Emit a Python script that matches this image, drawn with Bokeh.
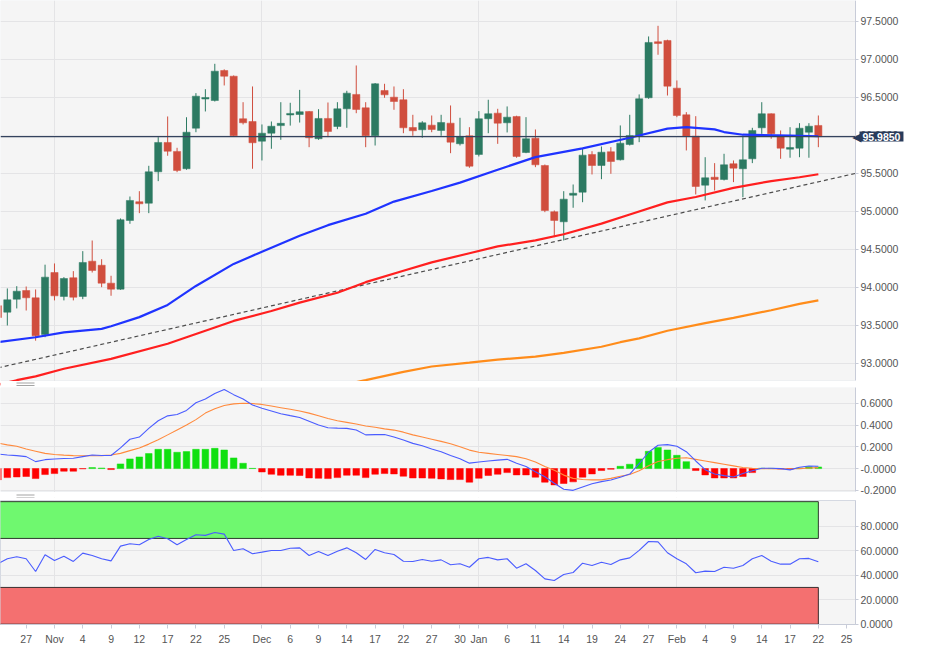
from bokeh.plotting import figure
from bokeh.layouts import column
from bokeh.models import (Range1d, FixedTicker, Label, ColumnDataSource, PrintfTickFormatter,
                          BoxAnnotation)
from bokeh.embed import file_html
from bokeh.resources import INLINE

# ---------------- data ----------------
tick_idx = [0, 3, 6, 9, 12, 15, 18, 21, 24, 28, 31, 34, 37, 40, 43, 46, 49, 51, 54, 57, 60, 63, 66, 69, 72, 75, 78, 81, 84, 87, 90]
tick_labels = ["22", "27", "Nov", "4", "9", "12", "17", "22", "25", "Dec", "6", "9", "14", "17", "22", "27", "30",
               "Jan", "6", "11", "14", "19", "24", "27", "Feb", "4", "9", "14", "17", "22", "25"]
month_idx = [6, 28, 51, 72]

open_ = [93.76, 93.675, 93.846, 93.96, 93.864, 93.382, 94.197, 93.882, 94.128, 93.882,
         94.346, 94.293, 94.057, 93.978, 94.882, 95.128, 95.109, 95.522, 95.908, 95.79,
         95.562, 96.096, 96.48, 96.46, 96.855, 96.78, 96.22, 96.184, 95.925, 96.03,
         96.13, 96.27, 96.276, 96.316, 95.957, 96.224, 96.118, 96.351, 96.54, 96.364,
         95.996, 96.592, 96.504, 96.47, 96.105, 96.075, 96.136, 96.066, 96.162, 95.891,
         95.996, 95.75, 96.22, 96.294, 96.167, 96.25, 95.776, 95.965, 95.605, 94.996,
         94.864, 95.214, 95.254, 95.75, 95.605, 95.786, 95.68, 95.882, 96.0, 96.496,
         97.233, 97.25, 96.623, 96.272, 95.991, 95.346, 95.451, 95.421, 95.628, 95.562,
         95.693, 96.101, 96.286, 96.0, 95.82, 95.833, 96.043, 96.132]
high = [93.82, 93.987, 94.017, 94.013, 93.974, 94.30, 94.316, 94.136, 94.215, 94.478,
        94.618, 94.372, 94.154, 94.908, 95.197, 95.267, 95.601, 95.978, 96.25, 95.838,
        96.24, 96.557, 96.609, 96.943, 96.87, 96.79, 96.438, 96.645, 96.145, 96.184,
        96.438, 96.43, 96.60, 96.32, 96.346, 96.434, 96.438, 96.588, 96.921, 96.438,
        96.69, 96.68, 96.645, 96.609, 96.272, 96.188, 96.263, 96.272, 96.395, 96.233,
        96.109, 96.32, 96.47, 96.351, 96.382, 96.26, 96.241, 96.079, 95.618, 95.013,
        95.267, 95.355, 95.833, 95.793, 95.855, 95.846, 96.132, 96.272, 96.54, 97.303,
        97.443, 97.26, 96.724, 96.307, 96.254, 95.714, 95.636, 95.759, 95.671, 96.0,
        96.101, 96.438, 96.29, 96.066, 96.109, 96.162, 96.162, 96.263]
low = [93.58, 93.50, 93.724, 93.697, 93.30, 93.346, 93.83, 93.83, 93.83, 93.846,
       94.197, 94.004, 93.891, 93.97, 94.838, 94.978, 94.978, 95.399, 95.733, 95.517,
       95.549, 96.043, 96.316, 96.447, 96.658, 95.99, 96.145, 95.562, 95.671, 95.825,
       95.943, 96.13, 96.17, 95.846, 95.943, 95.978, 96.083, 96.101, 96.293, 95.846,
       95.868, 96.496, 96.338, 96.03, 95.996, 95.97, 96.043, 95.996, 95.767, 95.868,
       95.575, 95.724, 96.03, 95.89, 96.04, 95.707, 95.767, 95.583, 94.991, 94.662,
       94.618, 95.049, 95.122, 95.487, 95.425, 95.496, 95.671, 95.868, 95.912, 96.483,
       97.062, 96.526, 96.241, 95.803, 95.224, 95.145, 95.276, 95.408, 95.386, 95.188,
       95.636, 96.022, 95.957, 95.693, 95.707, 95.714, 95.707, 95.846]
close = [93.605, 93.838, 93.951, 93.864, 93.364, 94.136, 93.89, 94.118, 93.872, 94.329,
         94.224, 94.057, 93.978, 94.891, 95.145, 95.101, 95.522, 95.908, 95.793, 95.54,
         96.043, 96.517, 96.50, 96.846, 96.78, 95.996, 96.167, 95.904, 96.03, 96.122,
         96.16, 96.29, 96.312, 95.97, 96.224, 96.053, 96.351, 96.557, 96.342, 95.996,
         96.68, 96.535, 96.447, 96.101, 96.062, 96.167, 96.079, 96.171, 95.912, 95.987,
         95.596, 96.22, 96.286, 96.162, 96.241, 95.724, 95.957, 95.614, 95.013, 94.882,
         95.162, 95.24, 95.741, 95.605, 95.78, 95.658, 95.899, 96.0, 96.483, 97.224,
         97.21, 96.649, 96.263, 95.991, 95.329, 95.443, 95.421, 95.614, 95.57, 95.68,
         96.066, 96.286, 96.022, 95.833, 95.842, 96.096, 96.122, 95.985]

ma50_idx = [0, 4, 7, 11, 12, 15, 18, 21, 25, 28, 32, 35, 39, 42, 46, 49, 53, 57, 62, 67, 71, 73, 76, 77, 79, 84, 87]
ma50 = [93.28, 93.345, 93.41, 93.455, 93.49, 93.61, 93.77, 94.02, 94.31, 94.47, 94.68, 94.82, 94.97, 95.13,
        95.27, 95.38, 95.55, 95.715, 95.83, 95.97, 96.09, 96.11, 96.08, 96.045, 96.01, 96.0, 95.99]
ma100_idx = [0, 2, 4, 7, 12, 18, 25, 29, 32, 36, 39, 43, 46, 50, 53, 57, 60, 64, 67, 71, 74, 78, 82, 85, 87]
ma100 = [92.72, 92.78, 92.83, 92.93, 93.06, 93.26, 93.56, 93.69, 93.80, 93.93, 94.07, 94.22, 94.33, 94.45,
         94.54, 94.62, 94.70, 94.84, 94.96, 95.12, 95.19, 95.31, 95.40, 95.45, 95.49]
ma200_idx = [36, 39, 43, 46, 50, 53, 57, 60, 64, 66, 68, 71, 75, 78, 82, 85, 87]
ma200 = [92.70, 92.78, 92.89, 92.96, 93.01, 93.05, 93.09, 93.14, 93.22, 93.28, 93.33, 93.43, 93.53, 93.60,
         93.70, 93.785, 93.83]
trend_idx = [0, 90.94]
trend = [92.942, 95.501]

macd = [0.133, 0.125, 0.119, 0.110, 0.064, 0.082, 0.088, 0.093, 0.095, 0.11,
        0.125, 0.12, 0.12, 0.19, 0.27, 0.29, 0.37, 0.44, 0.485, 0.498,
        0.535, 0.605, 0.64, 0.69, 0.727, 0.68, 0.64, 0.585, 0.555, 0.53,
        0.505, 0.487, 0.47, 0.435, 0.40, 0.376, 0.372, 0.37, 0.355, 0.31,
        0.312, 0.314, 0.29, 0.262, 0.232, 0.21, 0.18, 0.155, 0.12, 0.09,
        0.05, 0.06, 0.07, 0.078, 0.085, 0.05, 0.02, -0.03, -0.075, -0.135,
        -0.19, -0.2, -0.17, -0.14, -0.12, -0.105, -0.08, -0.05, 0.045, 0.15,
        0.215, 0.22, 0.205, 0.155, 0.07, -0.01, -0.05, -0.065, -0.078, -0.045,
        -0.02, 0.003, 0.003, 0.0, -0.012, 0.012, 0.024, 0.022]
signal = [0.235, 0.218, 0.205, 0.18, 0.16, 0.14, 0.13, 0.124, 0.119, 0.118,
          0.118, 0.119, 0.125, 0.14, 0.165, 0.19, 0.225, 0.265, 0.31, 0.355,
          0.40, 0.45, 0.51, 0.55, 0.58, 0.595, 0.601, 0.598, 0.59, 0.575,
          0.56, 0.545, 0.53, 0.51, 0.485, 0.46, 0.44, 0.425, 0.41, 0.392,
          0.38, 0.365, 0.354, 0.335, 0.31, 0.29, 0.27, 0.25, 0.228, 0.2,
          0.17, 0.15, 0.14, 0.13, 0.12, 0.11, 0.09, 0.06, 0.02, -0.015,
          -0.06, -0.09, -0.1, -0.104, -0.104, -0.09, -0.07, -0.055, -0.02, 0.027,
          0.065, 0.082, 0.095, 0.1, 0.085, 0.07, 0.055, 0.04, 0.025, 0.01,
          0.003, 0.0, -0.002, -0.003, -0.002, 0.0, 0.005, 0.009]
hist = [-0.104, -0.083, -0.077, -0.073, -0.092, -0.055, -0.046, -0.024, -0.024, -0.002,
        0.009, 0.005, -0.009, 0.043, 0.089, 0.107, 0.138, 0.177, 0.177, 0.150,
        0.156, 0.177, 0.177, 0.186, 0.171, 0.098, 0.049, 0.002, -0.031, -0.052,
        -0.061, -0.061, -0.064, -0.086, -0.089, -0.092, -0.083, -0.061, -0.061, -0.083,
        -0.052, -0.046, -0.049, -0.070, -0.086, -0.086, -0.089, -0.095, -0.101, -0.101,
        -0.125, -0.089, -0.064, -0.052, -0.037, -0.058, -0.058, -0.079, -0.125, -0.150,
        -0.137, -0.122, -0.079, -0.049, -0.018, -0.006, 0.021, 0.040, 0.089, 0.159,
        0.195, 0.171, 0.122, 0.064, -0.018, -0.058, -0.086, -0.086, -0.086, -0.073,
        -0.037, 0.003, 0.002, -0.003, -0.005, 0.005, 0.018, 0.015]
rsi = [49.3, 53.4, 55.0, 53.4, 43.0, 56.6, 52.0, 55.5, 51.2, 58.0,
       56.1, 53.4, 51.7, 63.7, 65.6, 64.8, 69.1, 71.8, 69.7, 64.8,
       69.1, 73.0, 72.5, 74.9, 73.5, 60.2, 61.6, 57.5, 58.8, 60.2,
       60.2, 62.0, 62.3, 56.1, 59.3, 56.1, 59.6, 62.3, 58.3, 52.8,
       61.0, 58.3, 56.9, 51.4, 51.2, 52.8, 51.4, 52.5, 48.5, 49.3,
       46.5, 53.4, 54.5, 52.5, 53.4, 45.7, 49.3, 43.8, 37.0, 35.7,
       40.6, 42.2, 49.8, 47.9, 50.6, 48.7, 52.5, 54.1, 60.2, 67.5,
       67.2, 58.3, 53.4, 49.3, 42.0, 43.3, 43.0, 46.5, 45.7, 47.9,
       53.4, 56.1, 51.4, 49.0, 49.0, 53.4, 53.7, 51.0]
rsi_upper = [70, 100]
rsi_lower = [0, 30]

price_ticks = [93.0, 93.5, 94.0, 94.5, 95.0, 95.5, 96.0, 96.5, 97.0, 97.5]
macd_ticks = [-0.2, 0.0, 0.2, 0.4, 0.6]
rsi_ticks = [0, 20, 40, 60, 80]

# ---------------- styling ----------------
FONT = "Liberation Sans"
BG = "#f5f5f5"
GRID = "#e4e4e6"
AXIS = "#c8ccd8"
LBL = "#555555"
GREEN_C = "#2c7a62"
RED_C = "#d04e3e"
NAVY = "#283b5b"
OUTLINE = "#d5d9e2"
HANDLE = "#a4a4a4"

n = len(close)
idx = list(range(n))
X0, X1 = 0.276, 90.94          # visible index range of the plotting area
PX_PER_IDX = 855 / (X1 - X0)
xr = Range1d(X0, X1)
HANDLE_X = (X0 + 16 / PX_PER_IDX, X0 + 34 / PX_PER_IDX)


def style_yaxis(ax, yticks):
    ax.ticker = FixedTicker(ticks=yticks)
    ax.formatter = PrintfTickFormatter(format="%.4f")
    ax.axis_line_color = AXIS
    ax.major_tick_line_color = AXIS
    ax.major_tick_in = 0
    ax.major_tick_out = 3
    ax.minor_tick_line_color = None
    ax.major_label_standoff = 2
    ax.major_label_text_font = FONT
    ax.major_label_text_font_size = "10.5px"
    ax.major_label_text_color = LBL


def add_handle(p, y_top_px, px_per_unit, y_ref_val, y_ref_px):
    """two short grey strokes (panel resize grip) below a panel"""
    for off in (0.0, 2.4):
        ypx = y_top_px + off
        top = y_ref_val - (ypx - y_ref_px) / px_per_unit
        bot = top - 1.0 / px_per_unit
        p.add_layout(BoxAnnotation(left=HANDLE_X[0], right=HANDLE_X[1], top=top, bottom=bot,
                                   fill_color=HANDLE, fill_alpha=1.0, line_color=None,
                                   level="overlay"))


# ---------------- main price panel ----------------
# the frame spans the full page width so the last-price tag can sit over the axis
P_TOP, P_BOT = 97.776, 92.776          # plotting area (380 px)
P_PPU = 380 / (P_TOP - P_BOT)
P_EXT = P_BOT - 7 / P_PPU              # frame continues 7 px into the gap below
x1_full = X0 + 928 / PX_PER_IDX
p1 = figure(frame_width=928, frame_height=387, x_range=Range1d(X0, x1_full),
            y_range=Range1d(P_EXT, P_TOP), output_backend="svg", toolbar_location=None,
            x_axis_location=None, y_axis_location="right",
            min_border_left=0, min_border_right=0, min_border_top=0, min_border_bottom=0,
            background_fill_color="white", border_fill_color="white", outline_line_color=None)
style_yaxis(p1.yaxis[0], price_ticks)
p1.yaxis[0].fixed_location = X1
p1.yaxis[0].bounds = (P_BOT, P_TOP)
p1.xgrid.ticker = FixedTicker(ticks=month_idx)
p1.grid.grid_line_color = GRID
p1.add_layout(BoxAnnotation(right=X1, bottom=P_BOT, fill_color=BG, fill_alpha=1.0,
                            line_color=OUTLINE, line_width=1, level="image"))
p1.add_layout(BoxAnnotation(left=X1, fill_color="white", fill_alpha=1.0, line_color=None,
                            level="underlay"))

tops = [max(o, c) for o, c in zip(open_, close)]
bots = [min(o, c) for o, c in zip(open_, close)]
cols = [GREEN_C if c >= o else RED_C for o, c in zip(open_, close)]
src = ColumnDataSource(dict(x=idx, h=high, l=low, top=tops, bot=bots, color=cols))
p1.segment("x", "h", "x", "l", source=src, line_color="color", line_width=1)
p1.vbar(x="x", width=0.76, top="top", bottom="bot", fill_color="color", line_color="color",
        line_width=0.5, source=src)

p1.line(trend_idx, trend, line_color="#4d4d4d", line_width=1.2, line_dash="4 3")
p1.line(ma200_idx, ma200, line_color="#ff8c1a", line_width=2.2)
p1.line(ma100_idx, ma100, line_color="#ff1f1f", line_width=2.2)
p1.line(ma50_idx, ma50, line_color="#1f33ff", line_width=2.2)
p1.line([X0, X1], [close[-1], close[-1]], line_color="#34435e", line_width=1.2)

# white cover for the gap below the plotting area, then the grip
p1.add_layout(BoxAnnotation(top=P_BOT - 0.5 / P_PPU, fill_color="white", fill_alpha=1.0,
                            line_color=None, level="annotation"))
add_handle(p1, 382.0, P_PPU, P_TOP, 0.0)

p1.add_layout(Label(x=861, y=close[-1], x_units="screen", y_units="data", text="◀",
                    text_font="DejaVu Sans", text_font_size="12px", text_color=NAVY,
                    text_align="right", text_baseline="middle"))
p1.add_layout(Label(x=859, y=close[-1], x_units="screen", y_units="data",
                    text="%.4f" % close[-1], text_font=FONT, text_font_size="10.5px",
                    text_font_style="bold", text_color="white", text_align="left",
                    text_baseline="middle", background_fill_color=NAVY,
                    padding=(3, 1)))

# ---------------- MACD panel ----------------
M_TOP, M_BOT = 0.7456, -0.2107          # plotting area (104 px, y 387..491)
M_PPU = 104 / (M_TOP - M_BOT)
M_EXT = M_BOT - 6 / M_PPU
p2 = figure(frame_width=855, frame_height=110, x_range=xr, y_range=Range1d(M_EXT, M_TOP),
            output_backend="svg", toolbar_location=None,
            x_axis_location=None, y_axis_location="right",
            min_border_left=0, min_border_right=20, min_border_top=0, min_border_bottom=3,
            background_fill_color="white", border_fill_color="white", outline_line_color=None)
style_yaxis(p2.yaxis[0], macd_ticks)
p2.yaxis[0].bounds = (M_BOT, M_TOP)
p2.yaxis[0].major_label_overrides = {0.0: "-0.0000"}
p2.xgrid.ticker = FixedTicker(ticks=month_idx)
p2.grid.grid_line_color = GRID
p2.add_layout(BoxAnnotation(bottom=M_BOT, fill_color=BG, fill_alpha=1.0,
                            line_color=OUTLINE, line_width=1, level="image"))
hcol = ["#10e010" if v > 0 else "#ff0000" for v in hist]
hsrc = ColumnDataSource(dict(x=idx, top=hist, color=hcol))
p2.vbar(x="x", width=0.7, top="top", bottom=0, fill_color="color", line_color="color",
        line_width=0.5, source=hsrc)
p2.line(idx, signal, line_color="#ff8a3d", line_width=1.1)
p2.line(idx, macd, line_color="#4a5cff", line_width=1.1)
p2.add_layout(BoxAnnotation(top=M_BOT - 0.5 / M_PPU, fill_color="white", fill_alpha=1.0,
                            line_color=None, level="annotation"))
add_handle(p2, 494.0 - 387.0, M_PPU, M_TOP, 0.0)

# ---------------- RSI panel ----------------
p3 = figure(frame_width=855, frame_height=124, x_range=xr, y_range=Range1d(-0.25, 100.95),
            output_backend="svg", toolbar_location=None,
            x_axis_location="below", y_axis_location="right",
            min_border_left=0, min_border_right=20, min_border_top=0, min_border_bottom=36,
            background_fill_color=BG, border_fill_color="white", outline_line_color=OUTLINE)
style_yaxis(p3.yaxis[0], rsi_ticks)
p3.xgrid.ticker = FixedTicker(ticks=month_idx)
p3.grid.grid_line_color = GRID
xa = p3.xaxis[0]
xa.ticker = FixedTicker(ticks=tick_idx)
xa.major_label_overrides = dict(zip(tick_idx, tick_labels))
xa.axis_line_color = AXIS
xa.major_tick_line_color = AXIS
xa.major_tick_in = 0
xa.major_tick_out = 4
xa.minor_tick_line_color = None
xa.major_label_standoff = 4
xa.major_label_text_font = FONT
xa.major_label_text_font_size = "10.5px"
xa.major_label_text_color = LBL

p3.quad(left=[-2], right=[n - 1], bottom=[rsi_upper[0]], top=[rsi_upper[1]],
         fill_color="#6ff86f", line_color="#2f3a2f", line_width=1)
p3.quad(left=[-2], right=[n - 1], bottom=[rsi_lower[0]], top=[rsi_lower[1]],
         fill_color="#f47070", line_color="#3a2f2f", line_width=1)
p3.line(idx, rsi, line_color="#4a5cff", line_width=1.1)

layout = column(p1, p2, p3, spacing=0)
open("out.html", "w").write(file_html(layout, INLINE))
